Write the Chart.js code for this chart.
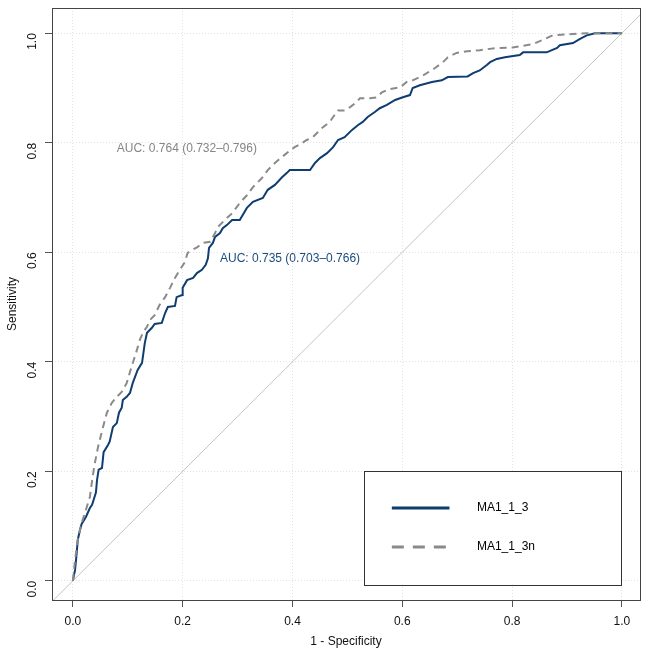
<!DOCTYPE html>
<html><head><meta charset="utf-8">
<script src="https://cdn.jsdelivr.net/npm/chart.js@4"></script>
<style>html,body{margin:0;padding:0;background:#fff}#wrap{width:649px;height:652px;position:relative}</style>
</head><body><div id="wrap"><canvas id="c" width="649" height="652"></canvas></div>
<script>
// ---- data (1 - specificity, sensitivity) ----
const fprSolid = [0,0.004,0.007,0.009,0.013,0.016,0.024,0.031,0.035,0.042,0.044,0.047,0.053,0.056,0.064,0.067,0.073,0.080,0.084,0.089,0.091,0.098,0.104,0.109,0.118,0.126,0.131,0.135,0.144,0.149,0.162,0.168,0.173,0.186,0.189,0.199,0.200,0.208,0.219,0.226,0.235,0.242,0.246,0.248,0.255,0.259,0.268,0.273,0.281,0.290,0.304,0.317,0.328,0.346,0.355,0.368,0.381,0.390,0.395,0.432,0.441,0.450,0.463,0.474,0.483,0.495,0.508,0.519,0.528,0.537,0.550,0.559,0.572,0.587,0.601,0.614,0.619,0.632,0.654,0.672,0.683,0.719,0.729,0.741,0.754,0.760,0.772,0.787,0.814,0.820,0.863,0.882,0.887,0.911,0.923,0.936,0.951,1];
const tprSolid = [0,0.020,0.051,0.075,0.093,0.104,0.117,0.133,0.139,0.161,0.184,0.203,0.206,0.235,0.248,0.254,0.281,0.288,0.307,0.316,0.330,0.336,0.343,0.361,0.385,0.398,0.434,0.453,0.462,0.469,0.471,0.489,0.500,0.502,0.518,0.522,0.535,0.549,0.553,0.562,0.568,0.577,0.589,0.608,0.617,0.628,0.635,0.644,0.650,0.659,0.659,0.681,0.692,0.699,0.714,0.723,0.737,0.745,0.750,0.750,0.763,0.772,0.781,0.792,0.805,0.810,0.823,0.832,0.838,0.847,0.856,0.863,0.869,0.878,0.883,0.887,0.900,0.905,0.911,0.914,0.920,0.921,0.927,0.932,0.942,0.947,0.953,0.956,0.960,0.965,0.965,0.973,0.978,0.982,0.989,0.996,1,1];
const fprDashed = [0,0.004,0.009,0.016,0.022,0.031,0.036,0.040,0.046,0.055,0.062,0.071,0.080,0.089,0.098,0.107,0.115,0.122,0.128,0.135,0.140,0.149,0.158,0.168,0.177,0.186,0.195,0.204,0.209,0.217,0.226,0.237,0.250,0.259,0.264,0.273,0.282,0.291,0.304,0.317,0.328,0.344,0.355,0.368,0.381,0.392,0.404,0.417,0.426,0.437,0.446,0.455,0.468,0.474,0.483,0.495,0.505,0.514,0.523,0.541,0.554,0.563,0.577,0.596,0.608,0.619,0.638,0.659,0.674,0.683,0.699,0.718,0.741,0.772,0.801,0.838,0.863,0.874,0.936,1];
const tprDashed = [0,0.038,0.075,0.106,0.124,0.153,0.190,0.215,0.245,0.281,0.307,0.325,0.336,0.345,0.361,0.391,0.416,0.440,0.454,0.464,0.476,0.485,0.504,0.518,0.535,0.553,0.568,0.582,0.599,0.604,0.609,0.617,0.619,0.635,0.646,0.655,0.664,0.672,0.690,0.704,0.719,0.735,0.750,0.763,0.774,0.783,0.792,0.799,0.805,0.810,0.819,0.828,0.838,0.847,0.859,0.859,0.865,0.872,0.881,0.881,0.883,0.892,0.898,0.901,0.911,0.914,0.923,0.936,0.947,0.956,0.964,0.967,0.969,0.973,0.974,0.980,0.991,0.996,1,1];
const seriesNames = ['MA1_1_3', 'MA1_1_3n'];
const aucTexts = ['AUC: 0.735 (0.703\u20130.766)', 'AUC: 0.764 (0.732\u20130.796)'];
const tickValues = [0, 0.2, 0.4, 0.6, 0.8, 1.0];
const xTitle = '1 - Specificity';
const yTitle = 'Sensitivity';

// ---- styles / placement ----
const BLUE = '#0f3d70';
const GRAY = '#8a8a8a';
const FONT = 'Liberation Sans, Arial, Helvetica, sans-serif';
const aucAnchors = [[0.268, 0.589], [0.080, 0.790]];
const aucColors = ['#1a4c80', '#858585'];

const toPts = (xs, ys) => xs.map((x, i) => ({x: x, y: ys[i]}));

const boxPlugin = {
  id: 'box',
  afterDatasetsDraw(chart) {
    const {ctx, chartArea: a, scales: {x, y}} = chart;
    ctx.save();
    ctx.font = '12px ' + FONT;
    ctx.textBaseline = 'middle';
    ctx.textAlign = 'left';
    aucTexts.forEach((t, i) => {
      ctx.fillStyle = aucColors[i];
      ctx.fillText(t, x.getPixelForValue(aucAnchors[i][0]), y.getPixelForValue(aucAnchors[i][1]));
    });
    const lx0 = x.getPixelForValue(0.530), lx1 = x.getPixelForValue(0.998);
    const ly0 = y.getPixelForValue(0.2007), ly1 = y.getPixelForValue(-0.007);
    ctx.fillStyle = '#fff';
    ctx.fillRect(lx0, ly0, lx1 - lx0, ly1 - ly0);
    ctx.strokeStyle = '#333';
    ctx.lineWidth = 1;
    ctx.strokeRect(Math.round(lx0) + 0.5, Math.round(ly0) + 0.5, Math.round(lx1 - lx0), Math.round(ly1 - ly0));
    const rows = [0.133, 0.062];
    const styles = [{c: BLUE, d: []}, {c: GRAY, d: [12, 9]}];
    rows.forEach((r, i) => {
      const py = y.getPixelForValue(r);
      ctx.beginPath();
      ctx.setLineDash(styles[i].d);
      ctx.strokeStyle = styles[i].c;
      ctx.lineWidth = 3;
      ctx.moveTo(x.getPixelForValue(0.581), py);
      ctx.lineTo(x.getPixelForValue(0.686), py);
      ctx.stroke();
      ctx.setLineDash([]);
      ctx.fillStyle = '#000';
      ctx.font = '12px ' + FONT;
      ctx.fillText(seriesNames[i], x.getPixelForValue(0.736), py);
    });
    ctx.strokeStyle = '#444';
    ctx.lineWidth = 1;
    ctx.strokeRect(Math.round(a.left) + 0.5, Math.round(a.top) + 0.5, Math.round(a.right - a.left), Math.round(a.bottom - a.top));
    ctx.restore();
  }
};

const gridCommon = {
  color: '#e2e2e2',
  lineWidth: 1,
  tickColor: '#555',
  tickLength: 7,
  tickWidth: 1,
  tickBorderDash: [],
};

new Chart(document.getElementById('c'), {
  type: 'scatter',
  data: {
    datasets: [
      {label: seriesNames[0], data: toPts(fprSolid, tprSolid), showLine: true, borderColor: BLUE, borderWidth: 2, pointRadius: 0, order: 2},
      {label: seriesNames[1], data: toPts(fprDashed, tprDashed), showLine: true, borderColor: GRAY, borderWidth: 2, borderDash: [7, 5], pointRadius: 0, order: 1},
      {label: 'ref', data: [{x: -0.2, y: -0.2}, {x: 1.2, y: 1.2}], showLine: true, borderColor: '#c4c4c4', borderWidth: 1, pointRadius: 0, order: 3, clip: 0}
    ]
  },
  options: {
    responsive: false,
    animation: false,
    devicePixelRatio: 1,
    layout: {padding: {top: 8, right: 9, left: 0, bottom: 0}},
    plugins: {legend: {display: false}, tooltip: {enabled: false}},
    scales: {
      x: {
        type: 'linear', min: -0.038, max: 1.033,
        afterBuildTicks: s => { s.ticks = tickValues.map(v => ({value: v})); },
        afterFit: s => { s.height = 52; s.paddingLeft = 0; s.paddingRight = 0; },
        grid: gridCommon,
        border: {display: false, dash: [1, 2]},
        ticks: {color: '#111', font: {family: FONT, size: 12}, padding: 7, maxRotation: 0, minRotation: 0,
          callback: v => Number(v).toFixed(1)},
        title: {display: true, text: xTitle, color: '#111', font: {family: FONT, size: 12}, padding: {top: 2, bottom: 3}}
      },
      y: {
        type: 'linear', min: -0.035, max: 1.046,
        afterBuildTicks: s => { s.ticks = tickValues.map(v => ({value: v})); },
        afterFit: s => { s.width = 52; s.paddingTop = 0; s.paddingBottom = 0; },
        grid: gridCommon,
        border: {display: false, dash: [1, 2]},
        ticks: {color: '#111', font: {family: FONT, size: 12}, padding: 12, minRotation: 90, maxRotation: 90,
          callback: v => Number(v).toFixed(1)},
        title: {display: true, text: yTitle, color: '#111', font: {family: FONT, size: 12}, padding: {top: 5, bottom: 0}}
      }
    }
  },
  plugins: [boxPlugin]
});
</script>
</body></html>
